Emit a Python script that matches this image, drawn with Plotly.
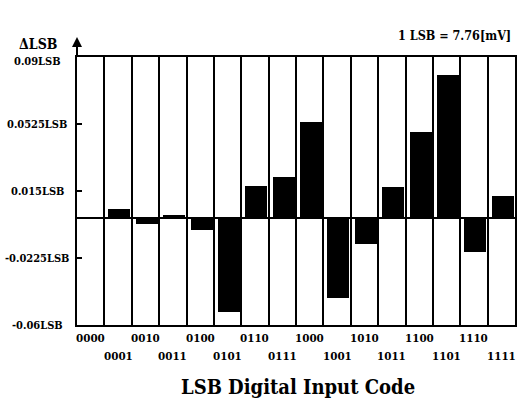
import plotly.graph_objects as go

codes = ["0000", "0001", "0010", "0011", "0100", "0101", "0110", "0111",
         "1000", "1001", "1010", "1011", "1100", "1101", "1110", "1111"]
dnl = [0.0, 0.005, -0.0037, 0.0018, -0.0067, -0.053, 0.0177, 0.0226,
       0.0539, -0.045, -0.0146, 0.0173, 0.0483, 0.080, -0.0192, 0.0121]
ytick_vals = [0.09, 0.0525, 0.015, -0.0225, -0.06]
ytick_text = ["0.09LSB", "0.0525LSB", "0.015LSB", "-0.0225LSB", "-0.06LSB"]

FONT = "DejaVu Serif Condensed"
xs = list(range(len(codes)))

fig = go.Figure()
fig.add_trace(go.Bar(x=xs, y=dnl, width=0.8, offset=-0.35,
                     marker=dict(color="black", line=dict(width=0))))

annotations = []
for i, c in enumerate(codes):
    annotations.append(dict(x=i, xref="x", y=0, yref="paper", yshift=-13 if i % 2 == 0 else -31,
                            text="<b>%s</b>" % c, showarrow=False, xanchor="center", yanchor="middle",
                            font=dict(family=FONT, size=11.5, color="black")))
for k, (v, t) in enumerate(zip(ytick_vals, ytick_text)):
    annotations.append(dict(x=0, xref="paper", xshift=-40, y=v, yref="y", yshift=-4 if k == 0 else 0,
                            text="<b>%s</b>" % t,
                            showarrow=False, xanchor="center", yanchor="middle",
                            font=dict(family=FONT, size=11, color="black")))
annotations += [
    dict(x=0, xref="paper", y=1.0 + 20 / 268, yref="paper", ax=0, ay=20, axref="pixel", ayref="pixel",
         text="", showarrow=True, arrowhead=2, arrowsize=1, arrowwidth=2, arrowcolor="black",
         standoff=0, startstandoff=0),
    dict(x=0, xref="paper", xshift=-39, y=1.05, yref="paper", text="<b>ΔLSB</b>", showarrow=False,
         xanchor="center", yanchor="middle", font=dict(family=FONT, size=14, color="black")),
    dict(x=1, xref="paper", xshift=-2, y=1.082, yref="paper", text="<b>1 LSB = 7.76[mV]</b>",
         showarrow=False, xanchor="right", yanchor="middle", font=dict(family=FONT, size=12.5, color="black")),
    dict(x=0.505, xref="paper", y=0, yref="paper", yshift=-62, text="<b>LSB Digital Input Code</b>",
         showarrow=False, xanchor="center", yanchor="middle", font=dict(family=FONT, size=20, color="black")),
]

fig.update_layout(
    width=519, height=401,
    margin=dict(l=77, r=2, t=57, b=76),
    paper_bgcolor="white", plot_bgcolor="white",
    showlegend=False, bargap=0,
    annotations=annotations,
    xaxis=dict(range=[-0.5, 15.5], tickvals=[i + 0.5 for i in range(15)], showticklabels=False,
               ticks="", showgrid=True, gridcolor="black", gridwidth=1.5,
               showline=True, linecolor="black", linewidth=2, mirror=True, zeroline=False),
    yaxis=dict(range=[-0.06, 0.09], tickvals=[0.0525, 0.015, -0.0225], showticklabels=False,
               ticks="inside", ticklen=5, tickwidth=1.5, tickcolor="black", showgrid=False,
               zeroline=True, zerolinecolor="black", zerolinewidth=1.5,
               showline=True, linecolor="black", linewidth=2, mirror=True),
)

fig.write_html("out.html")
